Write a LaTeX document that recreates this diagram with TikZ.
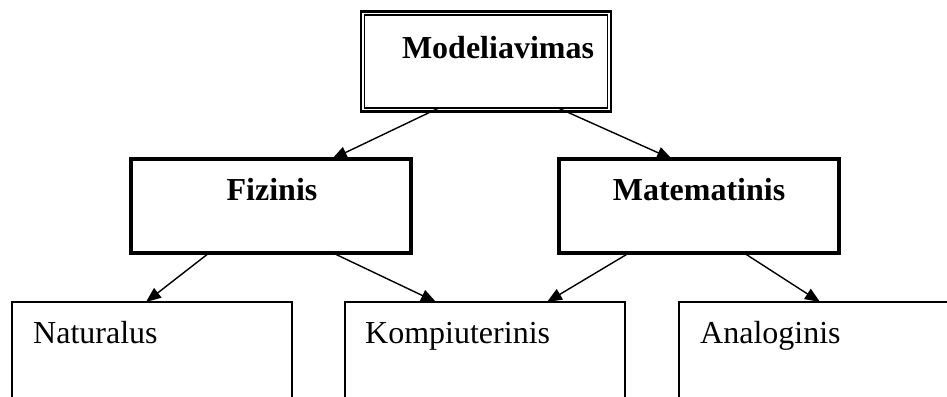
\documentclass[tikz,border=0pt]{standalone}
\usepackage{fontspec}
\setmainfont{Liberation Serif}
\usetikzlibrary{calc,arrows.meta}

\tikzset{
  boxbase/.style={rectangle, inner sep=0pt, outer sep=0pt},
  rootbox/.style={boxbase, draw, line width=2.4pt, minimum width=250pt, minimum height=100pt},
  rootinner/.style={line width=1.3pt},
  midbox/.style={boxbase, draw, line width=4pt, minimum width=280pt, minimum height=94pt},
  leafbox/.style={boxbase, draw, line width=1.5pt, anchor=north west,
                  minimum width=280pt, minimum height=140pt},
  boldlabel/.style={anchor=base, inner sep=0pt, font=\fontsize{32pt}{38pt}\selectfont\bfseries},
  plainlabel/.style={anchor=base west, inner sep=0pt, font=\fontsize{32pt}{38pt}\selectfont},
  arr/.style={line width=1.4pt, -{Triangle[length=15pt,width=12pt]}}
}

\begin{document}
\begin{tikzpicture}[x=1pt, y=-1pt]
  \useasboundingbox (0,0) rectangle (947,396);
  \clip (0,0) rectangle (947,396);

  % top level: heavy outer frame with a thin inner frame
  \node[rootbox] (mod) at (486,61.5) {};
  \draw[rootinner] ($(mod.south west)+(3.6,-3.6)$) rectangle ($(mod.north east)+(-3.6,3.6)$);
  \node[boldlabel] (modt) at (498,59) {Modeliavimas};

  % second level
  \node[midbox] (fiz) at (271,206) {};
  \node[boldlabel] (fizt) at (272,200) {Fizinis};
  \node[midbox] (mat) at (699,206) {};
  \node[boldlabel] (matt) at (699,200) {Matematinis};

  % third level (boxes run past the lower edge)
  \node[leafbox] (nat) at (12,302) {};
  \node[plainlabel] (natt) at (33,343) {Naturalus};
  \node[leafbox] (komp) at (345,302) {};
  \node[plainlabel] (kompt) at (365,343) {Kompiuterinis};
  \node[leafbox] (ana) at (679,302) {};
  \node[plainlabel] (anat) at (700,343) {Analoginis};

  % connectors
  \draw[arr] ($(mod.south west)+(78,-3.6)$) -- ($(fiz.north west)+(201,0)$);
  \draw[arr] ($(mod.south west)+(197,-3.6)$) -- ($(mat.north west)+(113,0)$);
  \draw[arr] ($(fiz.south west)+(78,0)$) -- ($(nat.north west)+(134,0)$);
  \draw[arr] ($(fiz.south west)+(202,0)$) -- ($(komp.north west)+(91,0)$);
  \draw[arr] ($(mat.south west)+(70,0)$) -- ($(komp.north west)+(202,0)$);
  \draw[arr] ($(mat.south west)+(185,0)$) -- ($(ana.north west)+(141,0)$);
\end{tikzpicture}
\end{document}
